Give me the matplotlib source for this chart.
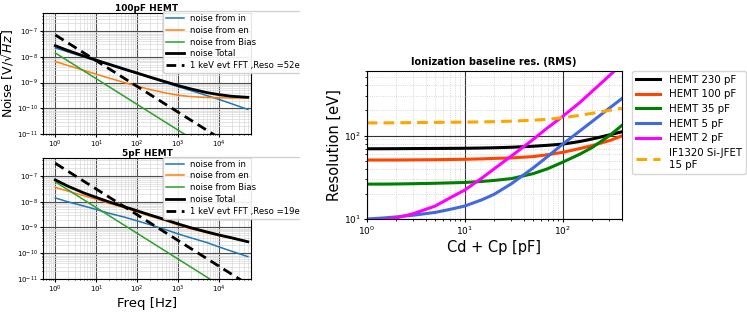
import numpy as np
import matplotlib
matplotlib.use("Agg")
import matplotlib.pyplot as plt
from matplotlib.transforms import Bbox, TransformedBbox

# ---- noise spectra ----
freq = [1, 2, 5, 10, 20, 50, 100, 200, 500, 1000, 2000, 5000, 10000, 20000, 50000]

# 100 pF HEMT
n100_in = [2.2e-8, 1.55e-8, 9.8e-9, 6.9e-9, 4.9e-9, 3.1e-9, 2.2e-9, 1.55e-9, 9.8e-10,
           6.9e-10, 4.9e-10, 3.1e-10, 2.2e-10, 1.5e-10, 9e-11]
n100_en = [6.5e-9, 4.6e-9, 2.95e-9, 2.1e-9, 1.5e-9, 9.8e-10, 7.2e-10, 5.4e-10, 3.9e-10,
           3.2e-10, 2.85e-10, 2.6e-10, 2.55e-10, 2.5e-10, 2.5e-10]
n100_bias = [1.4e-8, 7e-9, 2.8e-9, 1.4e-9, 7e-10, 2.8e-10, 1.4e-10, 7e-11, 2.8e-11,
             1.4e-11, 7e-12, 2.8e-12, 1.4e-12, 7e-13, 2.8e-13]
n100_tot = [2.69e-8, 1.76e-8, 1.06e-8, 7.35e-9, 5.17e-9, 3.26e-9, 2.32e-9, 1.64e-9, 1.055e-9,
            7.6e-10, 5.67e-10, 4.05e-10, 3.37e-10, 2.92e-10, 2.66e-10]
n100_evt = [7e-8, 3.5e-8, 1.4e-8, 7e-9, 3.5e-9, 1.4e-9, 7e-10, 3.5e-10, 1.4e-10,
            7e-11, 3.5e-11, 1.4e-11, 7e-12, 3.5e-12, 1.4e-12]

# 5 pF HEMT
n5_in = [1.4e-8, 1.0e-8, 6.8e-9, 5.0e-9, 3.6e-9, 2.5e-9, 1.8e-9, 1.3e-9, 8.2e-10,
         5.6e-10, 4.0e-10, 2.6e-10, 1.75e-10, 1.2e-10, 7.4e-11]
n5_en = [3.6e-8, 2.6e-8, 1.7e-8, 1.25e-8, 8.8e-9, 5.7e-9, 4.0e-9, 2.8e-9, 1.8e-9,
         1.25e-9, 9e-10, 6.2e-10, 4.8e-10, 3.8e-10, 2.7e-10]
n5_bias = [5.9e-8, 2.95e-8, 1.18e-8, 5.9e-9, 2.95e-9, 1.18e-9, 5.9e-10, 2.95e-10, 1.18e-10,
           5.9e-11, 2.95e-11, 1.18e-11, 5.9e-12, 2.95e-12, 1.18e-12]
n5_tot = [7.05e-8, 4.06e-8, 2.18e-8, 1.47e-8, 9.95e-9, 6.33e-9, 4.43e-9, 3.1e-9, 1.98e-9,
          1.37e-9, 9.85e-10, 6.72e-10, 5.1e-10, 3.98e-10, 2.8e-10]
n5_evt = [3.1e-7, 1.55e-7, 6.2e-8, 3.1e-8, 1.55e-8, 6.2e-9, 3.1e-9, 1.55e-9, 6.2e-10,
          3.1e-10, 1.55e-10, 6.2e-11, 3.1e-11, 1.55e-11, 6.2e-12]

# ---- baseline resolution vs capacitance ----
cap = [1, 1.5, 2, 3, 5, 7, 10, 15, 20, 30, 50, 70, 100, 150, 200, 300, 400]
res_230 = [69.5, 69.6, 69.7, 69.9, 70.1, 70.3, 70.5, 71, 71.5, 72.5, 74.5, 76.5, 79, 85, 91, 102, 111]
res_100 = [51, 51, 51, 51.2, 51.4, 51.7, 52, 52.6, 53.3, 54, 56, 59, 63, 70, 76, 87, 99]
res_35 = [26.2, 26.2, 26.3, 26.5, 26.8, 27.1, 27.4, 28.2, 29, 30.5, 35, 40, 48, 60, 72, 100, 132]
res_5 = [10, 10.3, 10.6, 11.1, 12, 13, 14.3, 17, 19.8, 26.5, 41, 56, 79, 114, 148, 214, 277]
res_2 = [9.6, 9.8, 10.3, 11.6, 14.3, 17.8, 22.2, 31, 40, 57, 90, 124, 170, 250, 340, 525, 720]
res_jfet = [142, 142, 142.5, 143, 144, 144.5, 145, 146, 147, 149, 153, 157, 164, 175, 185, 201, 213]

fig = plt.figure(figsize=(7.47, 3.12), dpi=100)

ax1 = fig.add_axes([0.0576, 0.5705, 0.2785, 0.3878])
ax2 = fig.add_axes([0.0576, 0.1058, 0.2785, 0.3878])
ax3 = fig.add_axes([0.4909, 0.2981, 0.3414, 0.4753])

# the left panels' legends are cut off at x = 300 px
clip = TransformedBbox(Bbox([[0, 0], [300 / 747, 1]]), fig.transFigure)


def noise_panel(ax, n_in, n_en, n_bias, n_tot, n_evt, title, reso, top):
    ax.loglog(freq, n_in, color='#1f77b4', lw=1.1, label='noise from in')
    ax.loglog(freq, n_en, color='#ff7f0e', lw=1.1, label='noise from en')
    ax.loglog(freq, n_bias, color='#2ca02c', lw=1.1, label='noise from Bias')
    ax.loglog(freq, n_tot, color='black', lw=2, label='noise Total')
    ax.loglog(freq, n_evt, color='black', lw=2, ls=(0, (3.5, 2)),
              label='1 keV evt FFT ,Reso =%deV' % reso)
    ax.set_xlim(0.5, 6e4)
    ax.set_ylim(1e-11, 5e-7)
    ax.grid(True, which='major', color='0.3', lw=0.8)
    ax.grid(True, which='minor', color='0.85', lw=0.5)
    ax.tick_params(labelsize=5, length=2, pad=1.5)
    ax.tick_params(which='minor', length=1)
    ax.set_title(title, fontsize=6.5, fontweight='bold', pad=1.5)
    leg = ax.legend(loc='upper left', bbox_to_anchor=(0.577, top), borderaxespad=0,
                    fontsize=6.1, framealpha=0.9, handlelength=2.1,
                    handletextpad=0.7, labelspacing=0.33, borderpad=0.35)
    for a in leg.findobj():
        a.set_clip_box(clip)


noise_panel(ax1, n100_in, n100_en, n100_bias, n100_tot, n100_evt, '100pF HEMT', 52, 1.017)
noise_panel(ax2, n5_in, n5_en, n5_bias, n5_tot, n5_evt, '5pF HEMT', 19, 1.011)
ax1.set_ylabel(r'Noise [V/$\sqrt{Hz}$]', fontsize=9, labelpad=1)
ax2.set_xlabel('Freq [Hz]', fontsize=9.5, labelpad=1)

# right panel
ax3.loglog(cap, res_230, color='black', lw=2.2, label='HEMT 230 pF')
ax3.loglog(cap, res_100, color='orangered', lw=2.2, label='HEMT 100 pF')
ax3.loglog(cap, res_35, color='green', lw=2.2, label='HEMT 35 pF')
ax3.loglog(cap, res_5, color='royalblue', lw=2.2, label='HEMT 5 pF')
ax3.loglog(cap, res_2, color='magenta', lw=2.2, label='HEMT 2 pF')
ax3.loglog(cap, res_jfet, color='orange', lw=2.2, ls=(0, (3.5, 2)),
           label='IF1320 Si-JFET\n15 pF')
ax3.set_xlim(1, 400)
ax3.set_ylim(10, 600)
ax3.grid(True, which='major', color='0.2', lw=0.8)
ax3.grid(True, which='minor', color='0.8', lw=0.6, ls=':')
ax3.tick_params(labelsize=6.5, length=2.5, pad=1.5)
ax3.tick_params(which='minor', length=1.5)
ax3.set_title('Ionization baseline res. (RMS)', fontsize=7, fontweight='bold', pad=4)
ax3.set_xlabel('Cd + Cp [pF]', fontsize=10.5, labelpad=2)
ax3.set_ylabel('Resolution [eV]', fontsize=10.5, labelpad=2)
ax3.legend(loc='upper left', bbox_to_anchor=(1.039, 1.0), borderaxespad=0,
           fontsize=7.4, handlelength=2.4, labelspacing=0.45)

fig.savefig('out.png', dpi=100)
